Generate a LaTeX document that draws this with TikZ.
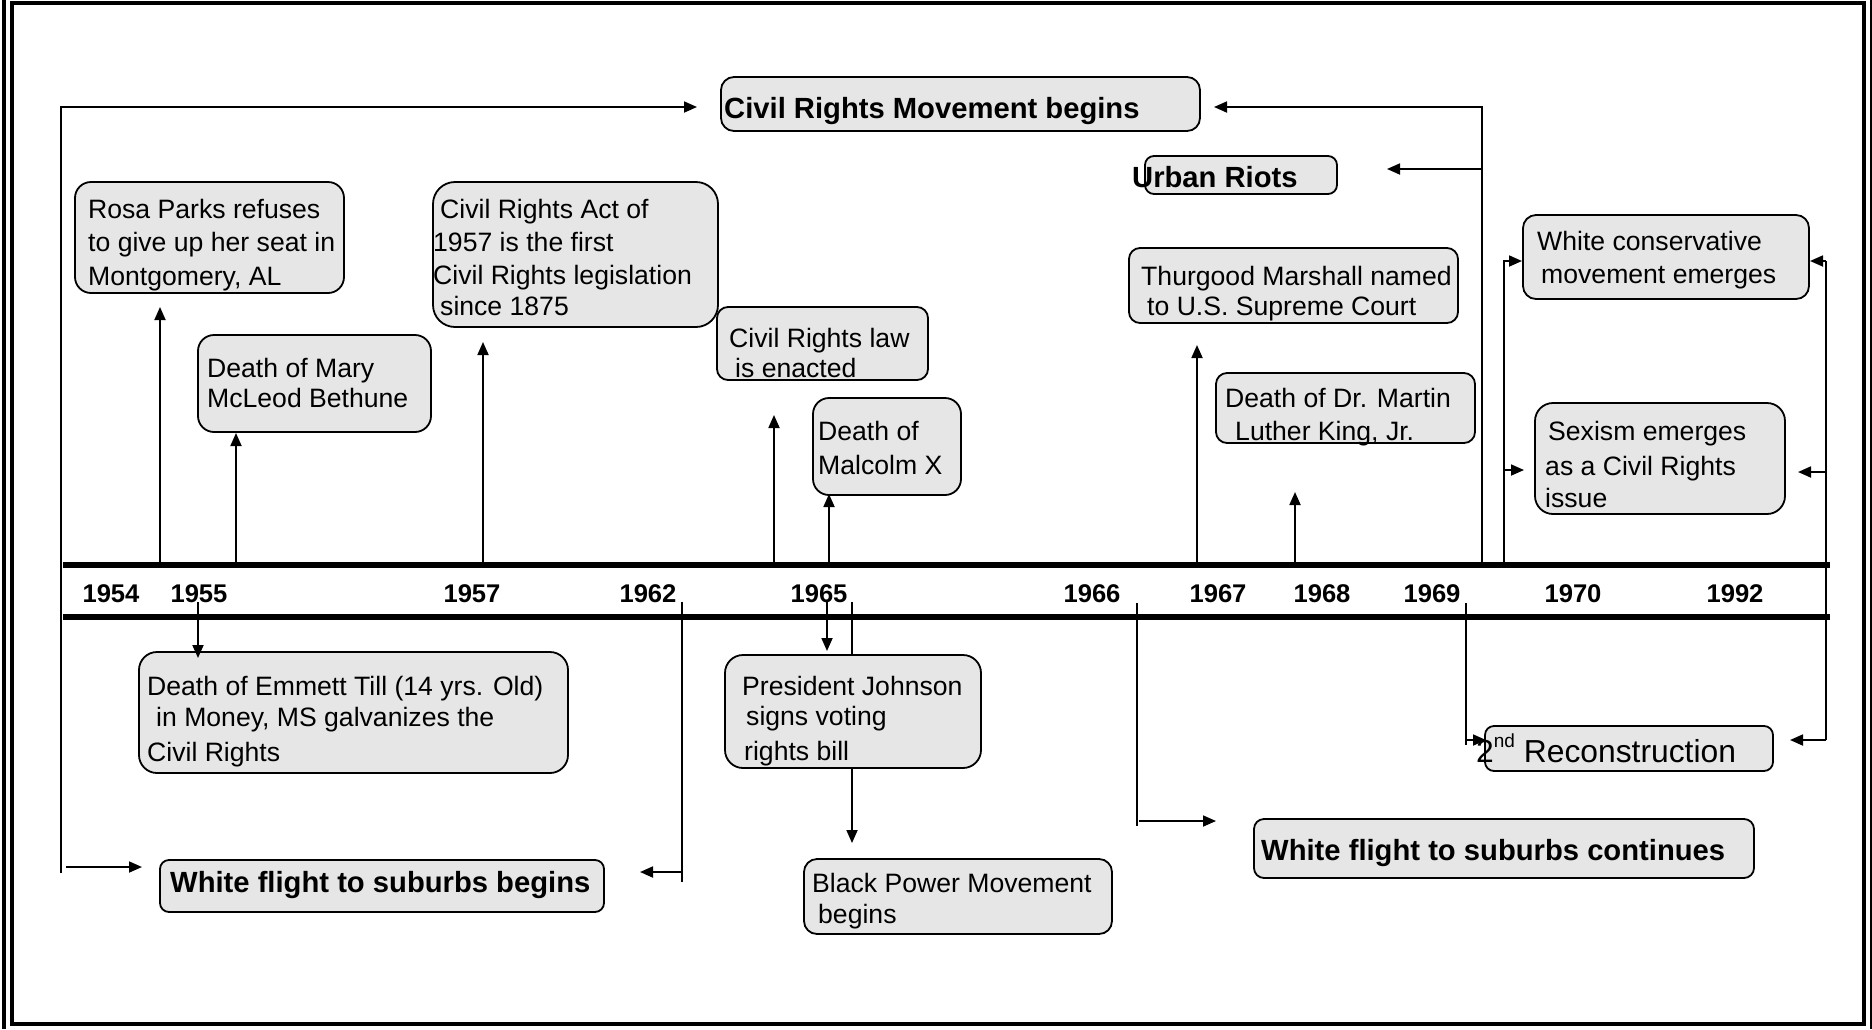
\documentclass[tikz,border=0pt]{standalone}
\usepackage{fontspec}
\setmainfont{Liberation Sans}
\usetikzlibrary{arrows.meta,fit}
\definecolor{boxgray}{HTML}{E6E6E6}
\newcommand{\fnorm}{\fontsize{26.6}{33}\selectfont}
\newcommand{\fhead}{\fontsize{29.2}{35}\selectfont\bfseries}
\newcommand{\fyear}{\fontsize{25.6}{30}\selectfont\bfseries}
\begin{document}
\begin{tikzpicture}[x=1pt,y=-1pt,
  box/.style={draw=black, line width=1.8pt, fill=boxgray, rounded corners=13pt, inner sep=0pt},
  txt/.style={inner sep=0pt, anchor=base west, font=\fnorm},
  head/.style={inner sep=0pt, anchor=base west, font=\fhead},
  yr/.style={inner sep=0pt, anchor=base, font=\fyear},
  conn/.style={line width=1.8pt},
  arr/.style={conn, -{Triangle[length=13pt,width=11pt]}},
  tline/.style={line width=5.5pt},
  frame/.style={line width=4pt}]
\useasboundingbox (0,0) rectangle (1872,1029);
\fill[white] (0,0) rectangle (1872,1029);
% frame
\draw[frame] (12,3) rectangle (1864,1024);
\draw[frame] (3.7,0) -- (3.7,1029);
\draw[frame] (1872,0) -- (1872,1029);

% timeline
\coordinate (tlA) at (63,565); \coordinate (tlB) at (1830,565);
\coordinate (tlC) at (63,617); \coordinate (tlD) at (1830,617);
\draw[tline] (tlA) -- (tlB);
\draw[tline] (tlC) -- (tlD);

% years
\node[yr] (y1954) at (111,602) {1954};
\node[yr] (y1955) at (199,602) {1955};
\node[yr] (y1957) at (472,602) {1957};
\node[yr] (y1962) at (648,602) {1962};
\node[yr] (y1965) at (819,602) {1965};
\node[yr] (y1966) at (1092,602) {1966};
\node[yr] (y1967) at (1218,602) {1967};
\node[yr] (y1968) at (1322,602) {1968};
\node[yr] (y1969) at (1432,602) {1969};
\node[yr] (y1970) at (1573,602) {1970};
\node[yr] (y1992) at (1735,602) {1992};

% boxes
\node[box, fit={(721,77) (1200,131)}] (crm) {};
\node[head] (crmt) at (724,118) {Civil Rights Movement begins};
\node[box, rounded corners=9pt, fit={(1145,156) (1337,194)}] (urban) {};
\node[head] (urbant) at (1132,187) {Urban Riots};

\node[box, rounded corners=16pt, fit={(75,182) (344,293)}] (rosa) {};
\node[txt] (rosa1) at (88,218) {Rosa Parks refuses};
\node[txt] (rosa2) at (88,251) {to give up her seat in};
\node[txt] (rosa3) at (88,285) {Montgomery, AL};

\node[box, rounded corners=16pt, fit={(198,335) (431,432)}] (mary) {};
\node[txt] (mary1) at (207,377) {Death of Mary};
\node[txt] (mary2) at (207,407) {McLeod Bethune};

\node[box, rounded corners=22pt, fit={(433,182) (718,327)}] (act) {};
\node[txt] (act1) at (440,218) {Civil Rights Act of};
\node[txt] (act2) at (433,251) {1957 is the first};
\node[txt] (act3) at (433,284) {Civil Rights legislation};
\node[txt] (act4) at (440,315) {since 1875};

\node[box, rounded corners=11pt, fit={(717,307) (928,380)}] (law) {};
\node[txt] (law1) at (729,347) {Civil Rights law};
\node[txt] (law2) at (735,377) {is enacted};

\node[box, rounded corners=16pt, fit={(813,398) (961,495)}] (malc) {};
\node[txt] (malc1) at (818,440) {Death of};
\node[txt] (malc2) at (818,474) {Malcolm X};

\node[box, rounded corners=11pt, fit={(1129,248) (1458,323)}] (thur) {};
\node[txt] (thur1) at (1141,285) {Thurgood Marshall named};
\node[txt] (thur2) at (1147,315) {to U.S. Supreme Court};

\node[box, rounded corners=11pt, fit={(1216,373) (1475,443)}] (mlk) {};
\node[txt] (mlk1) at (1225,407) {Death of Dr. Martin};
\node[txt] (mlk2) at (1235,440) {Luther King, Jr.};

\node[box, rounded corners=13pt, fit={(1523,215) (1809,299)}] (wcons) {};
\node[txt] (wcons1) at (1537,250) {White conservative};
\node[txt] (wcons2) at (1541,283) {movement emerges};

\node[box, rounded corners=18pt, fit={(1535,403) (1785,514)}] (sex) {};
\node[txt] (sex1) at (1548,440) {Sexism emerges};
\node[txt] (sex2) at (1545,475) {as a Civil Rights};
\node[txt] (sex3) at (1545,507) {issue};

\node[box, rounded corners=18pt, fit={(139,652) (568,773)}] (till) {};
\node[txt] (till1) at (147,695) {Death of Emmett Till (14 yrs. Old)};
\node[txt] (till2) at (156,726) {in Money, MS galvanizes the};
\node[txt] (till3) at (147,761) {Civil Rights};

\node[box, rounded corners=9pt, fit={(160,860) (604,912)}] (wfb) {};
\node[head] (wfbt) at (170,892) {White flight to suburbs begins};

\node[box, rounded corners=18pt, fit={(725,655) (981,768)}] (lbj) {};
\node[txt] (lbj1) at (742,695) {President Johnson};
\node[txt] (lbj2) at (746,725) {signs voting};
\node[txt] (lbj3) at (744,760) {rights bill};

\node[box, rounded corners=13pt, fit={(804,859) (1112,934)}] (bpm) {};
\node[txt] (bpm1) at (812,892) {Black Power Movement};
\node[txt] (bpm2) at (818,923) {begins};

\node[box, rounded corners=10pt, fit={(1254,819) (1754,878)}] (wfc) {};
\node[head] (wfct) at (1261,860) {White flight to suburbs continues};

\node[box, rounded corners=9pt, fit={(1485,726) (1773,771)}] (recon) {};
\node[inner sep=0pt, anchor=base west, font=\fontsize{31.8}{38}\selectfont] (recont) at (1476,762) {2\raisebox{15pt}{\fontsize{19}{22}\selectfont nd} Reconstruction};

% connector coordinates
\coordinate (cL0) at (61,873);
\coordinate (cL1) at (697,107);
\coordinate (cL2) at (66,867);
\coordinate (cL3) at (142,867);
\coordinate (cR0) at (1482,565);
\coordinate (cR1) at (1214,107);
\coordinate (cR2) at (1482,169);
\coordinate (cR3) at (1387,169);

\draw[arr] (cL0) |- (cL1);
\draw[arr] (cL2) -- (cL3);
\draw[arr] (cR0) |- (cR1);
\draw[arr] (cR2) -- (cR3);

% up arrows from timeline
\coordinate (uRosa) at (160,565);   \coordinate (uRosaE) at (160,307);
\coordinate (uMary) at (236,565);   \coordinate (uMaryE) at (236,433);
\coordinate (uAct) at (483,565);    \coordinate (uActE) at (483,342);
\coordinate (uLaw) at (774,565);    \coordinate (uLawE) at (774,415);
\coordinate (uMalc) at (829,565);   \coordinate (uMalcE) at (829,494);
\coordinate (uThur) at (1197,565);  \coordinate (uThurE) at (1197,345);
\coordinate (uMlk) at (1295,565);   \coordinate (uMlkE) at (1295,492);
\draw[arr] (uRosa) -- (uRosaE);
\draw[arr] (uMary) -- (uMaryE);
\draw[arr] (uAct) -- (uActE);
\draw[arr] (uLaw) -- (uLawE);
\draw[arr] (uMalc) -- (uMalcE);
\draw[arr] (uThur) -- (uThurE);
\draw[arr] (uMlk) -- (uMlkE);

% 1955
\coordinate (d55) at (198,602); \coordinate (d55E) at (198,658);
\draw[arr] (d55) -- (d55E);
% 1962
\coordinate (d62) at (682,602); \coordinate (d62E) at (682,882);
\coordinate (d62a) at (682,872); \coordinate (d62b) at (640,872);
\draw[conn] (d62) -- (d62E);
\draw[arr] (d62a) -- (d62b);
% 1965
\coordinate (d65) at (827,602); \coordinate (d65E) at (827,651);
\coordinate (d65b) at (852,602); \coordinate (d65bE) at (852,655);
\coordinate (d65c) at (852,768); \coordinate (d65cE) at (852,843);
\draw[arr] (d65) -- (d65E);
\draw[conn] (d65b) -- (d65bE);
\draw[arr] (d65c) -- (d65cE);
% 1966
\coordinate (d66) at (1137,603); \coordinate (d66E) at (1137,826);
\coordinate (d66a) at (1139,821); \coordinate (d66b) at (1216,821);
\draw[conn] (d66) -- (d66E);
\draw[arr] (d66a) -- (d66b);
% 1969
\coordinate (d69) at (1466,603); \coordinate (d69E) at (1466,745);
\coordinate (d69a) at (1466,740); \coordinate (d69b) at (1486,740);
\draw[conn] (d69) -- (d69E);
\draw[arr] (d69a) -- (d69b);
% left bracket 1504
\coordinate (bL0) at (1504,565); \coordinate (bL1) at (1522,261);
\coordinate (bL2) at (1504,470); \coordinate (bL3) at (1524,470);
\draw[arr] (bL0) |- (bL1);
\draw[arr] (bL2) -- (bL3);
% right bracket 1826
\coordinate (bR0) at (1826,261); \coordinate (bR1) at (1826,740);
\coordinate (bR2) at (1810,261); \coordinate (bR3) at (1826,472);
\coordinate (bR4) at (1798,472); \coordinate (bR5) at (1790,740);
\draw[conn] (bR0) -- (bR1);
\draw[arr] (bR0) -- (bR2);
\draw[arr] (bR3) -- (bR4);
\draw[arr] (bR1) -- (bR5);
\end{tikzpicture}
\end{document}
